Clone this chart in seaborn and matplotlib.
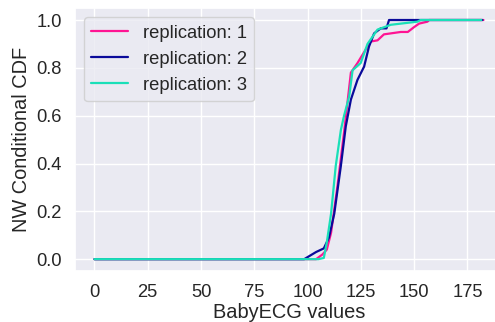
import matplotlib
matplotlib.use("Agg")
import matplotlib.pyplot as plt
import seaborn as sns
import pandas as pd

rep1_x = [0, 104, 107, 109, 111, 114, 117.1, 120.3, 123.4, 125.7, 129.6, 132.8, 135.8, 143.7, 147, 149.9, 152.3, 156.2, 157, 182.5]
rep1_y = [0, 0, 0.02, 0.04, 0.11, 0.305, 0.53, 0.78, 0.82, 0.854, 0.91, 0.915, 0.94, 0.95, 0.95, 0.97, 0.985, 0.993, 1.0, 1.0]
rep2_x = [0, 98.4, 101, 104, 107.6, 110, 112.5, 115.6, 117.9, 120.3, 123.4, 126.5, 128.8, 131.2, 134.3, 137, 138.2, 182]
rep2_y = [0, 0, 0.014, 0.03, 0.045, 0.09, 0.19, 0.39, 0.555, 0.667, 0.75, 0.805, 0.889, 0.944, 0.965, 0.965, 1.0, 1.0]
rep3_x = [0, 105, 107.6, 109, 111, 113.2, 115.6, 117.1, 119.5, 121.1, 124.9, 128.1, 132.8, 139, 151.5, 153, 181.5]
rep3_y = [0, 0, 0.005, 0.07, 0.19, 0.39, 0.54, 0.6, 0.68, 0.79, 0.82, 0.9, 0.96, 0.98, 0.993, 1.0, 1.0]
labels = ["replication: 1", "replication: 2", "replication: 3"]
colors = ["#FF1493", "#0A0A9A", "#1ADFB8"]

frames = []
for lab, xs, ys in zip(labels, [rep1_x, rep2_x, rep3_x], [rep1_y, rep2_y, rep3_y]):
    frames.append(pd.DataFrame({"x": xs, "y": ys, "rep": lab}))
df = pd.concat(frames, ignore_index=True)

sns.set_theme(style="darkgrid", font_scale=1.2)
plt.rcParams["font.family"] = ["Liberation Sans", "DejaVu Sans"]
fig, ax = plt.subplots(figsize=(4.95, 3.22), dpi=100)
sns.lineplot(data=df, x="x", y="y", hue="rep", palette=dict(zip(labels, colors)),
             estimator=None, sort=False, linewidth=1.6, ax=ax)
ax.set_xlabel("BabyECG values", labelpad=1)
ax.set_ylabel("NW Conditional CDF")
ax.set_xticks([0, 25, 50, 75, 100, 125, 150, 175])
ax.set_yticks([0.0, 0.2, 0.4, 0.6, 0.8, 1.0])
ax.legend(loc="upper left", title=None)
fig.subplots_adjust(left=0.1515, right=1.016, bottom=0.158, top=0.975)
fig.savefig("out.png", dpi=100)
